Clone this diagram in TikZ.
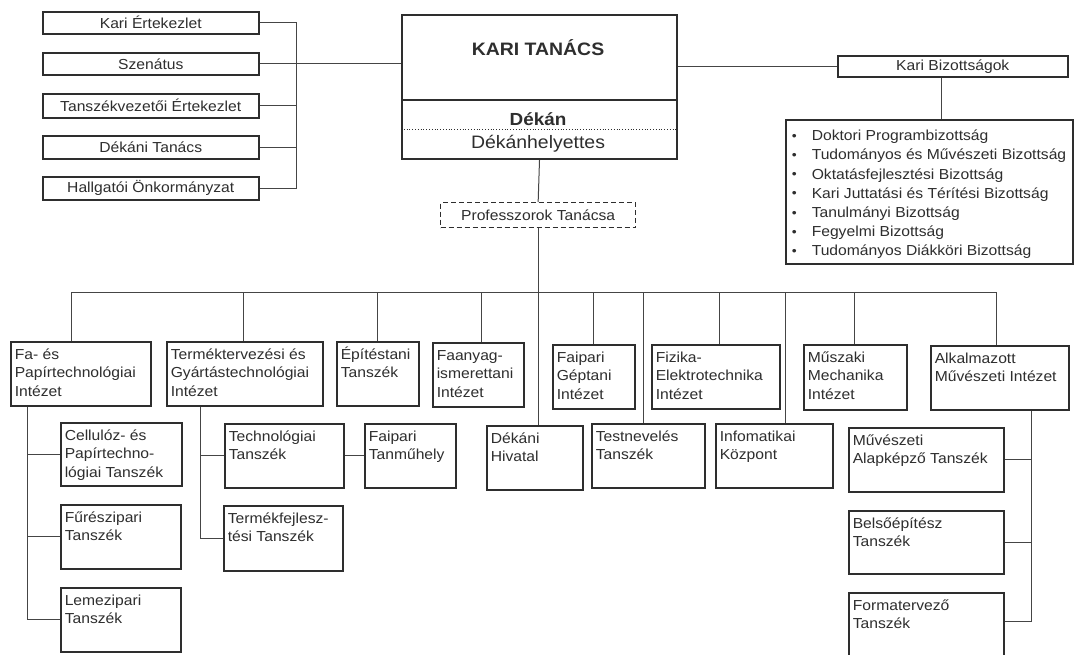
\documentclass[tikz,border=0pt]{standalone}
\usepackage{fontspec}
\setmainfont{Liberation Sans}[FakeStretch=1.08]
\definecolor{ink}{HTML}{2E2E2E}
\definecolor{ln}{HTML}{454545}
\newcommand\tbox[6]{\node[box] (#1) at (#2,#3) {\hspace*{4pt}\parbox[c][\dimexpr#5pt-#3pt\relax][t]{\dimexpr#4pt-#2pt-4pt\relax}{\raggedright\rule{0pt}{17.5pt}#6}};}
\newcommand\itm[1]{\makebox[21pt][l]{\hspace*{1pt}\fontsize{13}{13}\selectfont\raisebox{0.5pt}{\textbullet}}#1}
\begin{document}
\begin{tikzpicture}[x=1pt,y=-1pt,
  font=\fontsize{14.5}{18.5}\selectfont, text=ink,
  box/.style={draw=ink, line width=1.5pt, inner sep=0pt, anchor=north west},
  cbox/.style={draw=ink, line width=1.5pt, inner sep=0pt, anchor=north west, align=center},
  conn/.style={draw=ln, line width=1pt}]
\fill[white] (0,0) rectangle (1078,654);
\useasboundingbox (0,0) rectangle (1078,654);
\clip (0,0) rectangle (1078,654);

% left column
\node[cbox, minimum width=216pt, minimum height=22pt] (ke) at (42,11) {Kari Értekezlet};
\node[cbox, minimum width=216pt, minimum height=22pt] (sz) at (42,52) {Szenátus};
\node[cbox, minimum width=216pt, minimum height=24pt] (tv) at (42,93) {Tanszékvezetői Értekezlet};
\node[cbox, minimum width=216pt, minimum height=23pt] (dt) at (42,135) {Dékáni Tanács};
\node[cbox, minimum width=216pt, minimum height=23pt] (ho) at (42,176) {Hallgatói Önkormányzat};

% main box
\node[box, line width=2pt, minimum width=275pt, minimum height=144pt] (kt) at (401,14) {};
\node[anchor=base, font=\fontsize{18}{20}\selectfont\bfseries] (ktt) at (538,55) {KARI TANÁCS};
\node[anchor=base, font=\fontsize{17.5}{20}\selectfont\bfseries] (dek) at (538,125) {Dékán};
\node[anchor=base, font=\fontsize{18}{20}\selectfont] (dekh) at (538,148) {Dékánhelyettes};
\coordinate (d1) at (0,100);
\coordinate (d2) at (0,129);
\draw[draw=ink, line width=1.5pt] (kt.west |- d1) -- (kt.east |- d1);
\draw[draw=ink, line width=0.8pt, dotted] (kt.west |- d2) -- (kt.east |- d2);

% committees
\node[cbox, minimum width=230pt, minimum height=21pt] (kb) at (837,55) {Kari Bizottságok};
\node[box] (bl) at (785,119) {\hspace*{5pt}\parbox[c][144pt][t]{282pt}{\fontsize{14.5}{19.2}\selectfont\raggedright\rule{0pt}{21pt}%
\itm{Doktori Programbizottság}\\
\itm{Tudományos és Művészeti Bizottság}\\
\itm{Oktatásfejlesztési Bizottság}\\
\itm{Kari Juttatási és Térítési Bizottság}\\
\itm{Tanulmányi Bizottság}\\
\itm{Fegyelmi Bizottság}\\
\itm{Tudományos Diákköri Bizottság}}};

% professors
\node[cbox, dash pattern=on 5pt off 3pt, line width=1.3pt, minimum width=195pt, minimum height=25pt] (pt) at (440,202) {Professzorok Tanácsa};

% top row
\tbox{fa}{10}{341}{150}{405}{Fa- és\\Papírtechnológiai\\Intézet}
\tbox{tt}{166}{341}{322}{405}{Terméktervezési és\\Gyártástechnológiai\\Intézet}
\tbox{ep}{336}{341}{418}{405}{Építéstani\\Tanszék}
\tbox{fi}{432}{342}{523}{406}{Faanyag-\\ismerettani\\Intézet}
\tbox{gt}{552}{344}{634}{408}{Faipari\\Géptani\\Intézet}
\tbox{fe}{651}{344}{779}{408}{Fizika-\\Elektrotechnika\\Intézet}
\tbox{mm}{803}{344}{906}{409}{Műszaki\\Mechanika\\Intézet}
\tbox{al}{930}{345}{1068}{409}{Alkalmazott\\Művészeti Intézet}

% lower boxes
\tbox{cp}{60}{422}{181}{485}{Cellulóz- és\\Papírtechno-\\lógiai Tanszék}
\tbox{fz}{60}{504}{180}{568}{Fűrészipari\\Tanszék}
\tbox{lz}{60}{587}{180}{651}{Lemezipari\\Tanszék}
\tbox{tl}{224}{423}{343}{487}{Technológiai\\Tanszék}
\tbox{ft}{364}{423}{455}{487}{Faipari\\Tanműhely}
\tbox{tf}{223}{505}{342}{570}{Termékfejlesz-\\tési Tanszék}
\tbox{dh}{486}{425}{582}{489}{Dékáni\\Hivatal}
\tbox{tn}{591}{423}{704}{487}{Testnevelés\\Tanszék}
\tbox{ik}{715}{423}{832}{487}{Infomatikai\\Központ}
\tbox{ma}{848}{427}{1003}{491}{Művészeti\\Alapképző Tanszék}
\tbox{be}{848}{510}{1003}{573}{Belsőépítész\\Tanszék}
\tbox{fo}{848}{592}{1003}{662}{Formatervező\\Tanszék}

% connectors: top
\coordinate (brk) at (296,0);
\draw[conn] (ke.east) -- (ke.east -| brk) -- (ho.east -| brk) -- (ho.east);
\draw[conn] (sz.east) -- (sz.east -| kt.west);
\draw[conn] (tv.east) -- (tv.east -| brk);
\draw[conn] (dt.east) -- (dt.east -| brk);
\draw[conn] (kt.east |- kb.west) -- (kb.west);
\coordinate (kbD) at ([xshift=-11pt]kb.south);
\draw[conn] (kbD) -- (kbD |- bl.north);
\draw[conn] (kt.south) -- (pt.north);
\draw[conn] (pt.south) -- (pt.south |- dh.north);

% bus
\coordinate (bus) at (0,292);
\coordinate (faD) at ([xshift=61pt]fa.north west);
\coordinate (ttD) at ([xshift=77pt]tt.north west);
\coordinate (epD) at ([xshift=41pt]ep.north west);
\coordinate (fiD) at ([xshift=49pt]fi.north west);
\coordinate (gtD) at ([xshift=41pt]gt.north west);
\coordinate (tnD) at ([xshift=52pt]tn.north west);
\coordinate (feD) at ([xshift=68pt]fe.north west);
\coordinate (ikD) at ([xshift=70pt]ik.north west);
\coordinate (mmD) at ([xshift=51pt]mm.north west);
\coordinate (alD) at ([xshift=66pt]al.north west);
\draw[conn] (faD |- bus) -- (alD |- bus);
\foreach \d in {faD,ttD,epD,fiD,gtD,tnD,feD,ikD,mmD,alD}
  \draw[conn] (\d) -- (\d |- bus);

% sub branches
\coordinate (faV) at ([xshift=17pt]fa.south west);
\draw[conn] (faV) |- (lz.west);
\draw[conn] (cp.west) -- (cp.west -| faV);
\draw[conn] (fz.west) -- (fz.west -| faV);
\coordinate (ttV) at ([xshift=34pt]tt.south west);
\draw[conn] (ttV) |- (tf.west);
\draw[conn] (tl.west) -- (tl.west -| ttV);
\draw[conn] (tl.east) -- (ft.west);
\coordinate (alV) at ([xshift=101pt]al.south west);
\draw[conn] (alV) |- ([yshift=6pt]fo.east);
\draw[conn] (ma.east) -- (ma.east -| alV);
\draw[conn] (be.east) -- (be.east -| alV);
\end{tikzpicture}
\end{document}
